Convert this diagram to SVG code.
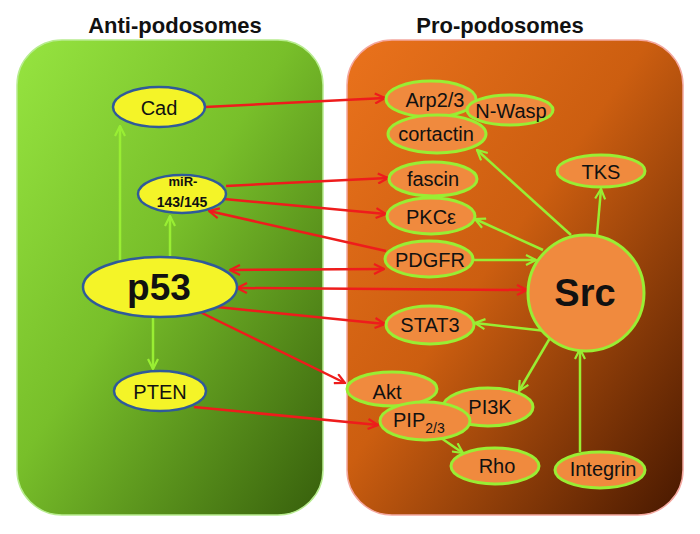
<svg xmlns="http://www.w3.org/2000/svg" width="700" height="534" viewBox="0 0 700 534">
<defs>
<linearGradient id="gGreen" x1="0" y1="0" x2="1" y2="1">
<stop offset="0" stop-color="#96e440"/>
<stop offset="0.45" stop-color="#78bf2a"/>
<stop offset="1" stop-color="#375f0c"/>
</linearGradient>
<linearGradient id="gOrange" x1="0" y1="0" x2="1" y2="1">
<stop offset="0" stop-color="#ea721c"/>
<stop offset="0.45" stop-color="#cc5e10"/>
<stop offset="1" stop-color="#471800"/>
</linearGradient>
<marker id="ar" viewBox="0 0 12 12" refX="11" refY="6" markerWidth="12" markerHeight="12" markerUnits="userSpaceOnUse" orient="auto-start-reverse">
<path d="M1,1 L11,6 L1,11" fill="none" stroke="#ee1c1c" stroke-width="2.2"/>
</marker>
<marker id="ag" viewBox="0 0 12 12" refX="11" refY="6" markerWidth="12" markerHeight="12" markerUnits="userSpaceOnUse" orient="auto-start-reverse">
<path d="M1,1 L11,6 L1,11" fill="none" stroke="#99ee33" stroke-width="2.2"/>
</marker>
</defs>
<style>
.title{font-family:"Liberation Sans",Arial,sans-serif;font-weight:bold;font-size:22px;fill:#111;text-anchor:middle}
.yn{fill:#f4f428;stroke:#2f5a9a;stroke-width:2.5}
.on{fill:#f08a3e;stroke:#99ee33;stroke-width:3}
.lbl{font-family:"Liberation Sans",Arial,sans-serif;font-size:20px;fill:#111;text-anchor:middle}
.r{stroke:#ee1c1c;stroke-width:2.5;fill:none}
.g{stroke:#99ee33;stroke-width:2.5;fill:none}
</style>
<rect width="700" height="534" fill="#ffffff"/>
<text class="title" x="175" y="33">Anti-podosomes</text>
<text class="title" x="500" y="33">Pro-podosomes</text>
<rect id="anti-panel" x="17" y="40" width="306" height="475" rx="45" ry="45" fill="url(#gGreen)" stroke="#b8ec90" stroke-width="1.5"/>
<rect id="pro-panel" x="347" y="40" width="336" height="475" rx="45" ry="45" fill="url(#gOrange)" stroke="#f4a8a0" stroke-width="1.5"/>

<g id="connectors">
<line class="g" x1="120" y1="262" x2="120" y2="126" marker-end="url(#ag)"/>
<line class="g" x1="170" y1="256" x2="170" y2="216" marker-end="url(#ag)"/>
<line class="g" x1="153" y1="317" x2="153" y2="369" marker-end="url(#ag)"/>
<line class="r" x1="205" y1="107" x2="385" y2="98" marker-end="url(#ar)"/>
<line class="r" x1="226" y1="186" x2="388" y2="178" marker-end="url(#ar)"/>
<line class="r" x1="224" y1="199" x2="386" y2="214" marker-end="url(#ar)"/>
<line class="r" x1="386" y1="251" x2="209" y2="211" marker-end="url(#ar)"/>
<line class="r" x1="230" y1="270" x2="384" y2="269" marker-start="url(#ar)" marker-end="url(#ar)"/>
<line class="r" x1="237" y1="288" x2="527" y2="290" marker-start="url(#ar)" marker-end="url(#ar)"/>
<line class="r" x1="217" y1="307" x2="385" y2="324" marker-end="url(#ar)"/>
<line class="r" x1="198" y1="311" x2="345" y2="383" marker-end="url(#ar)"/>
<line class="r" x1="194" y1="407" x2="378" y2="425" marker-end="url(#ar)"/>
<line class="g" x1="571" y1="235" x2="477" y2="150" marker-end="url(#ag)"/>
<line class="g" x1="597" y1="235" x2="601" y2="189" marker-end="url(#ag)"/>
<line class="g" x1="543" y1="250" x2="475" y2="219" marker-end="url(#ag)"/>
<line class="g" x1="473" y1="260" x2="536" y2="260" marker-end="url(#ag)"/>
<line class="g" x1="546" y1="331" x2="475" y2="323" marker-end="url(#ag)"/>
<line class="g" x1="550" y1="338" x2="519" y2="391" marker-end="url(#ag)"/>
<line class="g" x1="580" y1="452" x2="580" y2="349" marker-end="url(#ag)"/>
<line class="g" x1="441" y1="438" x2="463" y2="453" marker-end="url(#ag)"/>
</g>

<g id="node-cad"><ellipse class="yn" cx="159" cy="107" rx="46" ry="20"/><text class="lbl" x="159" y="115">Cad</text></g>
<g id="node-mir"><ellipse class="yn" cx="182" cy="194" rx="44" ry="19"/>
<text x="183" y="186" font-family="Liberation Sans,Arial,sans-serif" font-weight="bold" font-size="13" text-anchor="middle" fill="#111">miR-</text>
<text x="182" y="207" font-family="Liberation Sans,Arial,sans-serif" font-weight="bold" font-size="14" text-anchor="middle" fill="#111">143/145</text></g>
<g id="node-p53"><ellipse class="yn" cx="160" cy="287" rx="77" ry="30"/><text x="159" y="300" font-family="Liberation Sans,Arial,sans-serif" font-weight="bold" font-size="37" text-anchor="middle" fill="#111">p53</text></g>
<g id="node-pten"><ellipse class="yn" cx="160" cy="391" rx="46" ry="20"/><text class="lbl" x="160" y="399">PTEN</text></g>

<g id="node-arp"><ellipse class="on" cx="431" cy="99" rx="45" ry="18"/><text class="lbl" x="435" y="107">Arp2/3</text></g>
<g id="node-cortactin"><ellipse class="on" cx="437" cy="134" rx="49" ry="19"/><text class="lbl" x="436" y="141">cortactin</text></g>
<g id="node-nwasp"><ellipse class="on" cx="510" cy="110" rx="43" ry="15"/><text class="lbl" x="511" y="118">N-Wasp</text></g>
<g id="node-tks"><ellipse class="on" cx="601" cy="171" rx="44" ry="16"/><text class="lbl" x="601" y="179">TKS</text></g>
<g id="node-fascin"><ellipse class="on" cx="433" cy="179" rx="44" ry="17"/><text class="lbl" x="433" y="186">fascin</text></g>
<g id="node-pkce"><ellipse class="on" cx="431" cy="216" rx="44" ry="18"/><text class="lbl" x="431" y="224">PKCε</text></g>
<g id="node-pdgfr"><ellipse class="on" cx="429" cy="259" rx="44" ry="18"/><text class="lbl" x="430" y="267">PDGFR</text></g>
<g id="node-src"><circle class="on" cx="586" cy="293" r="58"/><text x="585" y="306" font-family="Liberation Sans,Arial,sans-serif" font-weight="bold" font-size="38" text-anchor="middle" fill="#111">Src</text></g>
<g id="node-stat3"><ellipse class="on" cx="430" cy="325" rx="44" ry="19"/><text class="lbl" x="430" y="332" font-size="18">STAT3</text></g>
<g id="node-akt"><ellipse class="on" cx="392" cy="389" rx="45" ry="17"/><text class="lbl" x="387" y="399">Akt</text></g>
<g id="node-pi3k"><ellipse class="on" cx="488" cy="407" rx="45" ry="19"/><text class="lbl" x="490" y="414">PI3K</text></g>
<g id="node-pip"><ellipse class="on" cx="425" cy="421" rx="45" ry="19"/><text x="393" y="427" font-family="Liberation Sans,Arial,sans-serif" font-size="20" fill="#111">PIP<tspan font-size="14" dy="6">2/3</tspan></text></g>
<g id="node-rho"><ellipse class="on" cx="495" cy="466" rx="44" ry="18"/><text class="lbl" x="497" y="473">Rho</text></g>
<g id="node-integrin"><ellipse class="on" cx="600" cy="470" rx="45" ry="18"/><text class="lbl" x="603" y="476">Integrin</text></g>
</svg>
